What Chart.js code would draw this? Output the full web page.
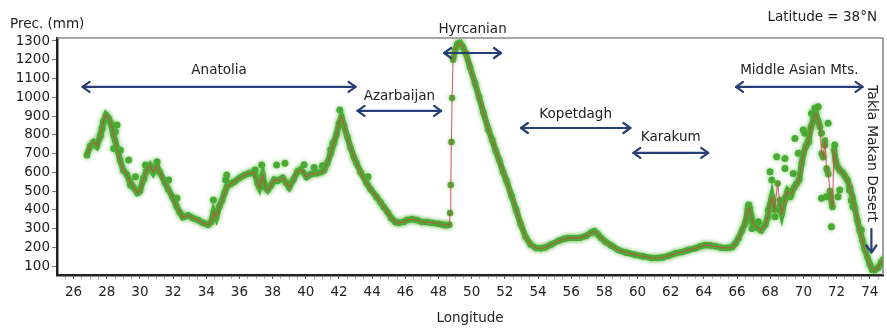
<!DOCTYPE html>
<html>
<head>
<meta charset="utf-8">
<script src="https://cdn.jsdelivr.net/npm/chart.js@4"></script>
<style>
  body { margin: 0; background: #fff; }
  canvas { display: block; }
</style>
</head>
<body>
<canvas id="precChart" width="887" height="328"></canvas>
<script>
// Longitude (deg E) of the profile along 38N
const longitude = [
  26.8, 27.0, 27.2, 27.4, 27.6, 27.8, 27.95, 28.1, 28.25, 28.4, 28.5, 28.65, 28.8, 29.0, 29.2, 29.4, 29.6, 29.85,
  30.0, 30.2, 30.4, 30.6, 30.8, 31.0, 31.2, 31.5, 31.7, 31.95, 32.2, 32.4, 32.6, 32.9, 33.2, 33.5, 33.8, 34.1,
  34.3, 34.45, 34.6, 34.8, 34.95, 35.1, 35.25, 35.5, 35.7, 36.0, 36.3, 36.6, 36.9, 37.1, 37.2, 37.4, 37.55, 37.7,
  37.9, 38.1, 38.3, 38.6, 38.8, 39.0, 39.25, 39.5, 39.7, 40.05, 40.3, 40.65, 40.9, 41.1, 41.3, 41.5, 41.7, 41.85,
  42.0, 42.15, 42.3, 42.5, 42.7, 42.9, 43.05, 43.3, 43.65, 43.9, 44.25, 44.5, 44.7, 44.95, 45.15, 45.4, 45.6, 45.9,
  46.1, 46.4, 46.7, 47.0, 47.3, 47.6, 48.0, 48.3, 48.5, 48.66, 48.7, 48.74, 48.78, 48.82, 48.88, 49.0, 49.15, 49.3,
  49.45, 49.65, 49.9, 50.2, 50.45, 50.7, 51.0, 51.25, 51.45, 51.66, 51.9, 52.1, 52.4, 52.68, 52.95, 53.25, 53.55, 53.88,
  54.2, 54.45, 54.8, 55.25, 55.6, 55.85, 56.2, 56.5, 56.9, 57.2, 57.4, 57.6, 57.8, 58.05, 58.4, 58.85, 59.3, 59.85,
  60.3, 60.85, 61.2, 61.5, 61.9, 62.3, 62.7, 63.05, 63.5, 63.8, 64.1, 64.4, 64.7, 65.05, 65.4, 65.7, 65.9, 66.1,
  66.3, 66.5, 66.65, 66.75, 66.85, 66.95, 67.2, 67.45, 67.7, 67.85, 68.0, 68.1, 68.25, 68.45, 68.6, 68.7, 68.9, 69.05,
  69.25, 69.45, 69.6, 69.75, 69.9, 70.0, 70.15, 70.3, 70.45, 70.6, 70.75, 70.9, 71.0, 71.1, 71.2, 71.3, 71.4, 71.5,
  71.6, 71.75, 71.85, 71.95, 72.05, 72.2, 72.35, 72.5, 72.65, 72.8, 72.95, 73.1, 73.25, 73.4, 73.55, 73.7, 73.85, 74.0,
  74.15, 74.3, 74.5, 74.7, 74.8
];

// Annual precipitation (mm) at each longitude above
const precipitation = [
  690, 740, 760, 740, 790, 870, 905, 890, 860, 800, 770, 720, 665, 610, 590, 550, 520, 490,
  500, 560, 610, 635, 600, 635, 600, 545, 510, 470, 420, 385, 360, 370, 355, 345, 330, 320,
  335, 390, 360, 420, 450, 490, 525, 540, 550, 570, 585, 595, 600, 540, 520, 585, 520, 505,
  530, 560, 555, 570, 545, 520, 560, 605, 615, 575, 590, 595, 600, 610, 650, 700, 760, 800,
  860, 895, 850, 790, 730, 680, 650, 600, 545, 510, 470, 440, 415, 385, 355, 335, 330, 335,
  345, 350, 345, 335, 335, 330, 325, 320, 318, 320, 383, 532, 761, 996, 1200, 1250, 1285, 1290,
  1270, 1235, 1160, 1075, 1000, 920, 830, 770, 715, 665, 600, 555, 475, 400, 325, 255, 215, 196,
  195, 200, 215, 235, 245, 250, 250, 250, 260, 278, 285, 270, 250, 230, 210, 185, 172, 160,
  152, 143, 143, 145, 155, 168, 175, 185, 195, 205, 212, 210, 205, 198, 196, 200, 220, 250,
  290, 330, 400, 410, 370, 330, 305, 290, 320, 360, 430, 470, 400, 540, 420, 380, 460, 500,
  480, 520, 540, 560, 650, 700, 740, 760, 840, 880, 915, 870, 840, 700, 680, 770, 620, 590,
  500, 415, 720, 660, 630, 610, 600, 580, 560, 520, 470, 410, 345, 290, 240, 190, 150, 110,
  80, 78, 90, 120, 135
];

// Single stations lying off the profile
const stationLon = [
  27.62, 27.72, 28.42, 28.52, 28.62, 28.82, 29.32, 29.43, 29.73, 30.23, 30.33, 31.03, 31.73, 32.23,
  34.43, 35.17, 35.23, 36.94, 37.34, 38.24, 38.74, 39.9, 40.5, 41.0, 41.5, 41.64, 42.05, 43.75,
  66.69, 66.9, 67.29, 67.89, 67.99, 68.09, 68.29, 68.39, 68.59, 68.59, 68.89, 68.89, 69.19, 69.39,
  69.49, 69.69, 69.99, 70.09, 70.29, 70.49, 70.69, 70.89, 71.09, 71.09, 71.29, 71.39, 71.49, 71.69,
  71.89, 72.09, 72.19, 72.79, 72.9, 72.99, 73.49, 73.69
];
const stationPrec = [
  798, 834, 727, 816, 852, 718, 665, 532, 576, 568, 639, 656, 559, 461,
  452, 559, 585, 612, 639, 639, 648, 640, 625, 635, 720, 754, 932, 576,
  425, 300, 336, 399, 603, 559, 363, 683, 399, 450, 674, 620, 470, 594,
  780, 701, 825, 808, 763, 914, 941, 950, 808, 461, 745, 470, 861, 310,
  745, 470, 505, 505, 450, 416, 292, 203
];

const yTicks = [100, 200, 300, 400, 500, 600, 700, 800, 900, 1000, 1100, 1200, 1300];
const xTickLabels = [26, 28, 30, 32, 34, 36, 38, 40, 42, 44, 46, 48, 50, 52, 54, 56, 58, 60, 62, 64, 66, 68, 70, 72, 74];

// Regions marked with double arrows (level in mm, lift = label gap in px)
const regions = [
  { name: 'Anatolia', from: 26.54, to: 43.0, level: 1055, lift: 16 },
  { name: 'Azarbaijan', from: 43.12, to: 48.16, level: 927, lift: 14 },
  { name: 'Hyrcanian', from: 48.34, to: 51.77, level: 1236, lift: 24 },
  { name: 'Kopetdagh', from: 52.97, to: 59.57, level: 836, lift: 14 },
  { name: 'Karakum', from: 59.75, to: 64.26, level: 703, lift: 15 },
  { name: 'Middle Asian Mts.', from: 65.94, to: 73.57, level: 1055, lift: 16 }
];

const GREEN = 'rgb(74,172,52)';
const RED = 'rgba(205,72,72,0.85)';
const NAVY = '#273f74';
const TEXT = '#222';
const FONT = 'DejaVu Sans';

const profile = longitude.map((lon, i) => ({ x: lon, y: precipitation[i] }));
const stations = stationLon.map((lon, i) => ({ x: lon, y: stationPrec[i] }));

// steep jumps only get the thin red line, no green band
function steep(ctx) {
  const dy = ctx.p1.parsed.y - ctx.p0.parsed.y;
  const dx = ctx.p1.parsed.x - ctx.p0.parsed.x;
  return Math.abs(dy / dx) > 650;
}

function arrowHead(ctx, tx, ty, dx, dy) {
  const len = 7, half = 5;
  const bx = tx - dx * len, by = ty - dy * len;
  ctx.beginPath();
  ctx.moveTo(bx - dy * half, by + dx * half);
  ctx.lineTo(tx, ty);
  ctx.lineTo(bx + dy * half, by - dx * half);
  ctx.stroke();
}

// soft halo round the green dots
const glow = {
  id: 'glow',
  beforeDatasetDraw(chart, args) {
    if (!args.meta._dataset.glow) return;
    const ctx = chart.ctx;
    ctx.save();
    ctx.shadowColor = 'rgba(74,172,52,0.6)';
    ctx.shadowBlur = 4;
  },
  afterDatasetDraw(chart, args) {
    if (args.meta._dataset.glow) chart.ctx.restore();
  }
};

const decorations = {
  id: 'decorations',
  beforeDatasetsDraw(chart) {
    const { ctx, chartArea: a } = chart;
    // grey top and right frame
    ctx.save();
    ctx.strokeStyle = '#8a8a8a';
    ctx.lineWidth = 1.6;
    ctx.beginPath();
    ctx.moveTo(a.left, a.top);
    ctx.lineTo(a.right, a.top);
    ctx.lineTo(a.right, a.bottom);
    ctx.stroke();
    ctx.restore();
  },
  afterDraw(chart) {
    const { ctx, scales: { x, y } } = chart;
    ctx.save();
    ctx.fillStyle = TEXT;
    ctx.font = `13.5px "${FONT}"`;
    ctx.textBaseline = 'middle';
    ctx.textAlign = 'left';
    ctx.fillText('Prec. (mm)', 10, 24);
    ctx.textAlign = 'right';
    ctx.fillText('Latitude = 38°N', 877, 17);

    ctx.strokeStyle = NAVY;
    ctx.lineWidth = 2.2;
    ctx.lineCap = 'round';
    ctx.lineJoin = 'round';
    ctx.textAlign = 'center';
    for (const r of regions) {
      const x0 = x.getPixelForValue(r.from);
      const x1 = x.getPixelForValue(r.to);
      const py = y.getPixelForValue(r.level);
      ctx.beginPath();
      ctx.moveTo(x0, py);
      ctx.lineTo(x1, py);
      ctx.stroke();
      arrowHead(ctx, x0, py, -1, 0);
      arrowHead(ctx, x1, py, 1, 0);
      ctx.fillText(r.name, (x0 + x1) / 2, py - r.lift);
    }

    // Takla Makan label runs downwards into its arrow
    const tx = x.getPixelForValue(74.1);
    ctx.save();
    ctx.translate(tx, y.getPixelForValue(1065));
    ctx.rotate(Math.PI / 2);
    ctx.textAlign = 'left';
    ctx.font = `14px "${FONT}"`;
    ctx.fillText('Takla Makan Desert', 0, 0);
    ctx.restore();
    const ay0 = y.getPixelForValue(297);
    const ay1 = y.getPixelForValue(172);
    ctx.beginPath();
    ctx.moveTo(tx, ay0);
    ctx.lineTo(tx, ay1);
    ctx.stroke();
    arrowHead(ctx, tx, ay1, 0, 1);
    ctx.restore();
  }
};

new Chart(document.getElementById('precChart'), {
  type: 'line',
  data: {
    datasets: [
      {
        data: profile,
        borderColor: RED,
        borderWidth: 1.1,
        pointRadius: 0,
        order: 0
      },
      {
        data: profile,
        glow: true,
        borderColor: GREEN,
        borderWidth: 6,
        pointRadius: 3.2,
        pointBorderWidth: 0,
        pointBackgroundColor: GREEN,
        segment: {
          borderColor: ctx => steep(ctx) ? 'rgba(0,0,0,0)' : GREEN
        },
        order: 1
      },
      {
        data: stations,
        glow: true,
        showLine: false,
        pointRadius: 3.5,
        pointBorderWidth: 0,
        pointBackgroundColor: GREEN,
        order: 2
      }
    ]
  },
  options: {
    responsive: false,
    animation: false,
    parsing: false,
    layout: { padding: { top: 38, right: 1, left: 0, bottom: 0 } },
    plugins: { legend: { display: false }, tooltip: { enabled: false } },
    scales: {
      x: {
        type: 'linear',
        min: 25,
        max: 74.8,
        afterFit: s => { s.height = 53; },
        afterBuildTicks: s => {
          const ticks = [];
          for (let v = 25.5; v <= 74.5; v += 0.5) ticks.push({ value: v });
          s.ticks = ticks;
        },
        border: { color: '#222', width: 2.5 },
        grid: {
          drawOnChartArea: false,
          tickLength: 4,
          tickColor: ctx => xTickLabels.includes(ctx.tick.value) ? '#555' : '#aaa'
        },
        ticks: {
          autoSkip: false,
          maxRotation: 0,
          padding: 5,
          color: TEXT,
          font: { family: FONT, size: 13.5 },
          callback: v => xTickLabels.includes(v) ? String(v) : ''
        },
        title: {
          display: true,
          text: 'Longitude',
          color: TEXT,
          font: { family: FONT, size: 13.5 },
          padding: { top: 0, bottom: 1 }
        }
      },
      y: {
        min: 52,
        max: 1316,
        afterFit: s => { s.width = 57; },
        afterBuildTicks: s => { s.ticks = yTicks.map(v => ({ value: v })); },
        border: { color: '#222', width: 2.5 },
        grid: { drawOnChartArea: false, tickLength: 5, tickColor: '#777' },
        ticks: {
          padding: 2,
          color: TEXT,
          font: { family: FONT, size: 13.5 },
          callback: v => String(v)
        }
      }
    }
  },
  plugins: [glow, decorations]
});
</script>
</body>
</html>
